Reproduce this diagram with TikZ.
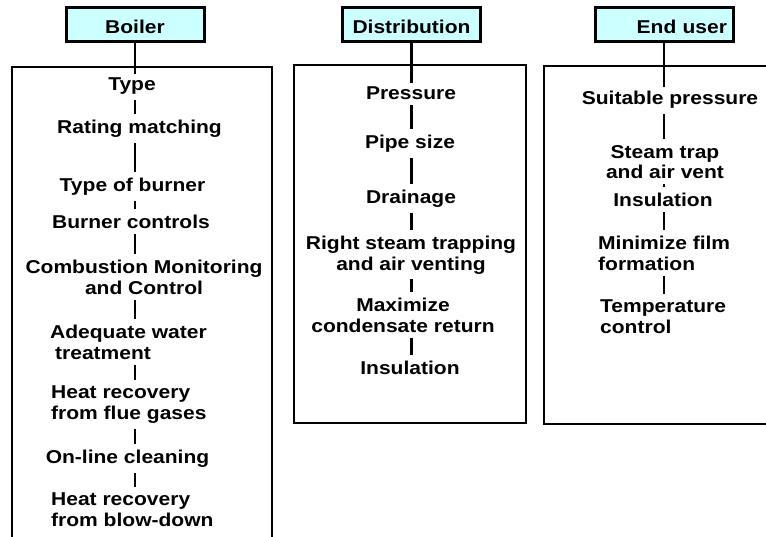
\documentclass[tikz,border=0pt]{standalone}
\usepackage{fontspec}
\setmainfont{Liberation Sans}[FakeStretch=1.13]
\definecolor{HDR-CYAN}{RGB}{204,255,255}

\begin{document}
\begin{tikzpicture}[x=1pt, y=-1pt,
  txt/.style={font=\fontsize{18.6}{20.5}\selectfont\bfseries},
  header/.style={txt, draw, line width=3pt, fill=HDR-CYAN, minimum width=138pt,
    minimum height=34pt, inner sep=2pt, text height=18.4pt, text depth=0pt},
  item/.style={txt, anchor=north, inner sep=0pt, align=center},
  leftitem/.style={item, anchor=north west, align=left},
  frame/.style={line width=2.2pt},
  link/.style={line width=2.5pt, shorten <=5pt, shorten >=6pt}]
  \useasboundingbox (0,0) rectangle (766,537);

  % Boiler column (box open at the bottom)
  \draw[frame] (12,537) -- (12,67) -- (272,67) -- (272,537);
  \node[header] (boiler) at (135,24.5) {Boiler};
  \node[item] (b1) at (132,78) {Type};
  \node[item] (b2) at (139.5,120) {Rating matching};
  \node[item] (b3) at (132.5,178) {Type of burner};
  \node[item] (b4) at (131,215) {Burner controls};
  \node[item] (b5) at (144,260) {Combustion Monitoring\\and Control};
  \node[leftitem] (b6) at (50,325) {Adequate water\\\hspace*{5pt}treatment};
  \node[leftitem] (b7) at (51,386) {Heat recovery\\from flue gases};
  \node[item] (b8) at (127.5,450) {On-line cleaning};
  \node[leftitem] (b9) at (51,493) {Heat recovery\\from blow-down};
  \draw[link, shorten <=0pt, shorten >=4pt] (boiler.south) -- (b1.north -| boiler.south);
  \foreach \a/\b in {b1/b2,b2/b3,b3/b4,b4/b5,b5/b6,b6/b7,b7/b8,b8/b9}
    \draw[link] (\a.south -| boiler) -- (\b.north -| boiler);

  % Distribution column
  \draw[frame] (294,65) rectangle (526,423);
  \node[header] (distr) at (411.5,24.5) {Distribution};
  \node[item] (d1) at (411,87) {Pressure};
  \node[item] (d2) at (410,135) {Pipe size};
  \node[item] (d3) at (411,190) {Drainage};
  \node[item] (d4) at (411,236) {Right steam trapping\\and air venting};
  \node[item] (d5) at (403,298) {Maximize\\condensate return};
  \node[item] (d6) at (410,361) {Insulation};
  \draw[link, shorten <=0pt, shorten >=4pt] (distr.south) -- (d1.north -| distr.south);
  \foreach \a/\b in {d1/d2,d2/d3,d3/d4,d4/d5,d5/d6}
    \draw[link] (\a.south -| distr) -- (\b.north -| distr);

  % End user column (box open on the right)
  \draw[frame] (766,66) -- (544,66) -- (544,424) -- (766,424);
  \node[header, text width=126pt, align=right] (enduser) at (664,24.5) {End user};
  \node[item] (e1) at (670,91) {Suitable pressure};
  \node[item] (e2) at (665,145) {Steam trap\\and air vent};
  \node[item] (e3) at (663,193) {Insulation};
  \node[leftitem] (e4) at (598,236) {Minimize film\\formation};
  \node[leftitem] (e5) at (600,300) {Temperature\\control};
  \draw[link, shorten <=0pt, shorten >=4pt] (enduser.south) -- (e1.north -| enduser.south);
  \foreach \a/\b in {e1/e2,e2/e3,e3/e4,e4/e5}
    \draw[link] (\a.south -| enduser) -- (\b.north -| enduser);
\end{tikzpicture}
\end{document}
